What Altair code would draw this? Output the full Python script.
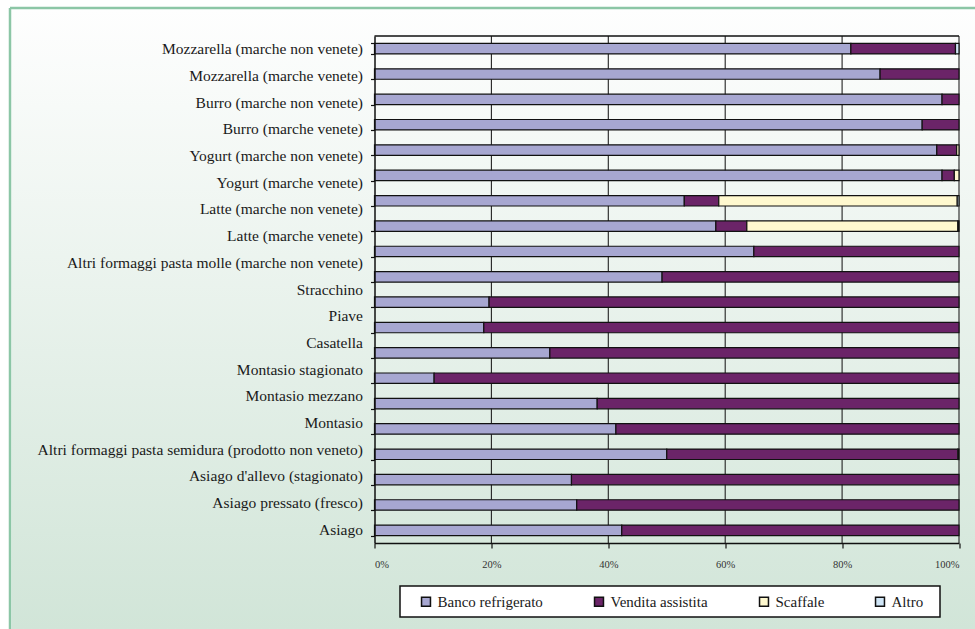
import altair as alt
import pandas as pd

# Category labels, top to bottom
labels = [
    "Mozzarella (marche non venete)",
    "Mozzarella  (marche venete)",
    "Burro (marche non venete)",
    "Burro (marche venete)",
    "Yogurt (marche non venete)",
    "Yogurt (marche venete)",
    "Latte (marche non venete)",
    "Latte (marche venete)",
    "Altri formaggi pasta molle (marche non venete)",
    "Stracchino",
    "Piave",
    "Casatella",
    "Montasio stagionato",
    "Montasio mezzano",
    "Montasio",
    "Altri formaggi pasta semidura (prodotto non veneto)",
    "Asiago d'allevo (stagionato)",
    "Asiago pressato (fresco)",
    "Asiago",
]

# Bar rows, top to bottom (shares in %)
rows = list(range(1, 21))
banco = [81.5, 86.5, 97.1, 93.7, 96.2, 97.1, 53.0, 58.4, 64.9, 49.2,
         19.6, 18.7, 30.0, 10.2, 38.1, 41.3, 50.0, 33.7, 34.6, 42.3]
vendita = [17.9, 13.5, 2.9, 6.3, 3.4, 2.1, 5.9, 5.3, 35.1, 50.8,
           80.4, 81.3, 70.0, 89.8, 61.9, 58.7, 49.8, 66.3, 65.4, 57.7]
scaffale = [0.0, 0.0, 0.0, 0.0, 0.4, 0.8, 40.8, 36.1, 0.0, 0.0,
            0.0, 0.0, 0.0, 0.0, 0.0, 0.0, 0.0, 0.0, 0.0, 0.0]
altro = [0.6, 0.0, 0.0, 0.0, 0.0, 0.0, 0.3, 0.2, 0.0, 0.0,
         0.0, 0.0, 0.0, 0.0, 0.0, 0.0, 0.2, 0.0, 0.0, 0.0]

series = ["Banco refrigerato", "Vendita assistita", "Scaffale", "Altro"]
colors = ["#A7A7D1", "#6B2468", "#FFF9CF", "#CFE5F6"]
x_ticks = [0, 20, 40, 60, 80, 100]
grid_x = [20, 40, 60, 80, 100]

W, H = 584.5, 507
FONT = "Liberation Serif"

records = []
for i, r in enumerate(rows):
    for k, (name, vals) in enumerate(zip(series, [banco, vendita, scaffale, altro])):
        if vals[i] > 0:
            records.append({"row": r, "serie": name, "ord": k, "value": vals[i]})
df = pd.DataFrame(records)

xscale = alt.Scale(domain=[0, 100], nice=False, zero=True)
one = alt.Data(values=[{}])

# Panel background with soft vertical gradient
background = alt.Chart(one).mark_rect(
    fill=alt.LinearGradient(
        gradient="linear",
        stops=[alt.GradientStop(offset=0, color="#FEFEFE"),
               alt.GradientStop(offset=1, color="#D1E5D8")],
        x1=0, x2=0, y1=0, y2=1,
    ),
    strokeWidth=0,
).encode(x=alt.value(-363), x2=alt.value(600.5), y=alt.value(-27), y2=alt.value(593))

frame_top = alt.Chart(one).mark_rule(color="#8CC6A6", strokeWidth=2.5).encode(
    x=alt.value(-364.5), x2=alt.value(600.5), y=alt.value(-28))
frame_left = alt.Chart(one).mark_rule(color="#8CC6A6", strokeWidth=2.5).encode(
    x=alt.value(-364.5), y=alt.value(-28), y2=alt.value(593))

grid = alt.Chart(pd.DataFrame({"gx": grid_x})).mark_rule(
    color="#222222", strokeWidth=1.1
).encode(x=alt.X("gx:Q", scale=xscale), y=alt.value(0), y2=alt.value(H))

top_border = alt.Chart(one).mark_rule(color="#111111", strokeWidth=1.3).encode(
    x=alt.value(0), x2=alt.value(W), y=alt.value(0))

legend_box = alt.Chart(one).mark_rect(
    fill="white", stroke="#111111", strokeWidth=1.5
).encode(x=alt.value(25.5), x2=alt.value(565.5), y=alt.value(550), y2=alt.value(581))

bars = alt.Chart(df).mark_bar(stroke="#111111", strokeWidth=1.2).encode(
    x=alt.X(
        "value:Q", stack="zero", scale=xscale,
        axis=alt.Axis(values=x_ticks, labelExpr="datum.value + '%'", title=None,
                      grid=False, domainColor="#111111", domainWidth=1.5,
                      tickColor="#111111", tickSize=5, tickWidth=1.2,
                      labelFont=FONT, labelFontSize=10.5, labelColor="#333333",
                      labelPadding=11, zindex=1),
    ),
    y=alt.Y(
        "row:O", sort="ascending",
        scale=alt.Scale(paddingInner=0.586, paddingOuter=0.293),
        axis=alt.Axis(labels=False, title=None, grid=False, tickBand="extent",
                      domainColor="#111111", domainWidth=1.5, tickColor="#111111",
                      tickSize=4, tickWidth=1.2, zindex=1),
    ),
    color=alt.Color(
        "serie:N", scale=alt.Scale(domain=series, range=colors),
        legend=alt.Legend(orient="none", legendX=44, legendY=558, direction="horizontal",
                          title=None, symbolType="square", symbolSize=80,
                          symbolStrokeColor="#111111", symbolStrokeWidth=1.5,
                          labelFont=FONT, labelFontSize=15, labelColor="#1a1a1a",
                          labelOffset=4, columnPadding=48, padding=0),
    ),
    order=alt.Order("ord:Q"),
)

text = alt.Chart(pd.DataFrame({"label": labels})).mark_text(
    align="right", baseline="middle", font=FONT, fontSize=15.5, color="#1a1a1a"
).encode(
    x=alt.value(-11.5),
    y=alt.Y("label:N", sort=labels, scale=alt.Scale(type="point", padding=0.5), axis=None),
    text="label:N",
)

chart = alt.layer(
    background, frame_top, frame_left, grid, top_border, legend_box, bars, text
).resolve_scale(y="independent").properties(
    width=W, height=H,
    autosize=alt.AutoSizeParams(type="none"),
    padding={"left": 374.5, "top": 36, "right": 16, "bottom": 86},
    background="white",
).configure_view(stroke=None).configure_legend(
    labelFont=FONT, labelFontSize=15
).configure_axis(labelFont=FONT).configure_text(font=FONT)

chart.save("out.html", embed_options={"renderer": "svg", "actions": False})
